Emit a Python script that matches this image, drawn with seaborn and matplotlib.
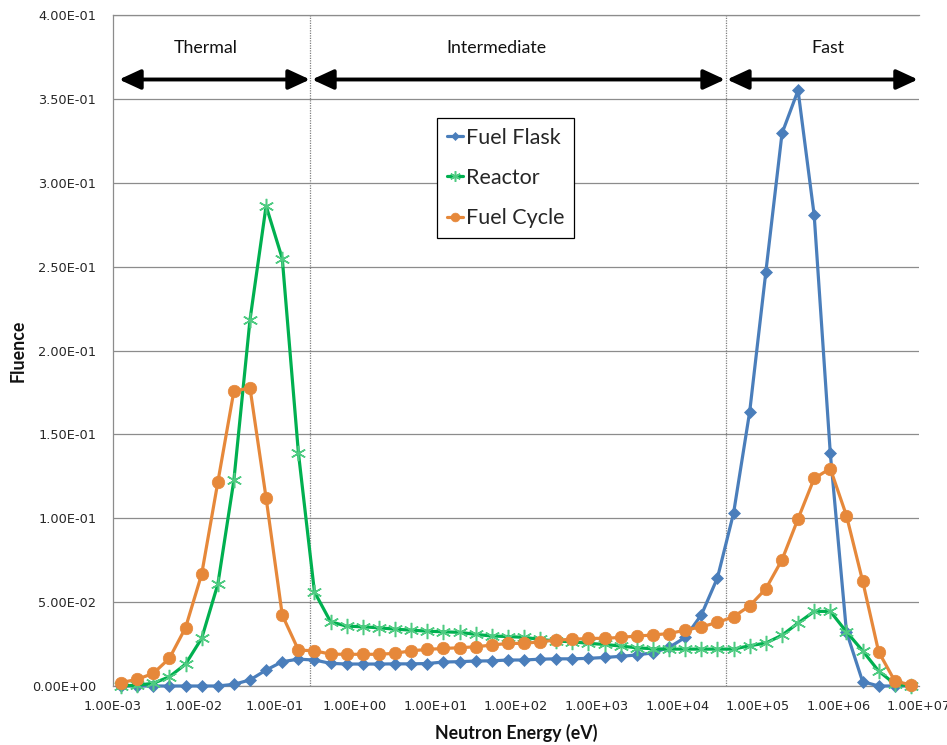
import matplotlib
matplotlib.use("Agg")
import matplotlib.pyplot as plt
from matplotlib.ticker import FixedLocator, FuncFormatter, NullLocator
import pandas as pd
import seaborn as sns

# Bin-centre energies (eV), five bins per decade
energy = [
    1.26e-3, 2.00e-3, 3.16e-3, 5.01e-3, 7.94e-3,
    1.26e-2, 2.00e-2, 3.16e-2, 5.01e-2, 7.94e-2,
    1.26e-1, 2.00e-1, 3.16e-1, 5.01e-1, 7.94e-1,
    1.26e0, 2.00e0, 3.16e0, 5.01e0, 7.94e0,
    1.26e1, 2.00e1, 3.16e1, 5.01e1, 7.94e1,
    1.26e2, 2.00e2, 3.16e2, 5.01e2, 7.94e2,
    1.26e3, 2.00e3, 3.16e3, 5.01e3, 7.94e3,
    1.26e4, 2.00e4, 3.16e4, 5.01e4, 7.94e4,
    1.26e5, 2.00e5, 3.16e5, 5.01e5, 7.94e5,
    1.26e6, 2.00e6, 3.16e6, 5.01e6, 7.94e6,
]

fuel_flask = [
    0.0, 0.0, 0.0, 0.0, 0.0, 0.0, 0.0, 0.001, 0.0036, 0.0095,
    0.0145, 0.016, 0.0155, 0.0135, 0.0131, 0.0131, 0.0131, 0.0132, 0.0132, 0.0134,
    0.0143, 0.0145, 0.0149, 0.015, 0.0155, 0.0155, 0.016, 0.0162, 0.0162, 0.0165,
    0.017, 0.0177, 0.0185, 0.0198, 0.023, 0.029, 0.0425, 0.0645, 0.1031, 0.1636,
    0.247, 0.3296, 0.3552, 0.2808, 0.1388, 0.0323, 0.0026, 0.0, 0.0, 0.0,
]

reactor = [
    0.0, 0.0005, 0.0016, 0.0055, 0.013, 0.0284, 0.0607, 0.1226, 0.2183, 0.2863,
    0.2549, 0.1389, 0.0561, 0.0383, 0.0357, 0.0353, 0.0347, 0.0339, 0.0333, 0.0327,
    0.0323, 0.032, 0.0308, 0.0298, 0.0295, 0.029, 0.0278, 0.0268, 0.0264, 0.0254,
    0.0248, 0.0238, 0.0228, 0.0222, 0.022, 0.022, 0.022, 0.022, 0.022, 0.024,
    0.0256, 0.0303, 0.0375, 0.0445, 0.0445, 0.0323, 0.021, 0.0089, 0.0012, 0.0,
]

fuel_cycle = [
    0.002, 0.004, 0.0075, 0.0165, 0.0347, 0.0667, 0.1216, 0.1758, 0.1778, 0.1121,
    0.0423, 0.0214, 0.021, 0.019, 0.0189, 0.0189, 0.0189, 0.0195, 0.021, 0.0218,
    0.0224, 0.0228, 0.0234, 0.0244, 0.0254, 0.0254, 0.0264, 0.0274, 0.0278, 0.0284,
    0.0284, 0.029, 0.0298, 0.0304, 0.0313, 0.0333, 0.0353, 0.0379, 0.0413, 0.0478,
    0.058, 0.0753, 0.0997, 0.1238, 0.1297, 0.1016, 0.0626, 0.0204, 0.003, 0.0006,
]

series_names = ["Fuel Flask", "Reactor", "Fuel Cycle"]
x_ticks = [1e-3, 1e-2, 1e-1, 1e0, 1e1, 1e2, 1e3, 1e4, 1e5, 1e6, 1e7]
y_ticks = [0.0, 0.05, 0.10, 0.15, 0.20, 0.25, 0.30, 0.35, 0.40]

# Energy-range bands shown above the curves
regions = ["Thermal", "Intermediate", "Fast"]
region_bounds = [(1.19e-3, 0.278), (0.295, 3.92e4), (4.15e4, 9.7e6)]
region_label_x = [1.4e-2, 58.0, 7.4e5]
region_dividers = [0.28, 4.0e4]

sns.set_theme(style="white")
plt.rcParams["font.family"] = ["DejaVu Sans"]

fig = plt.figure(figsize=(9.47, 7.45), dpi=100)
ax = fig.add_axes([0.1193, 0.0792, 0.9704 - 0.1193, 0.9795 - 0.0792])

df = pd.DataFrame({"energy": energy, "Fuel Flask": fuel_flask,
                   "Reactor": reactor, "Fuel Cycle": fuel_cycle})

styles = {
    "Fuel Flask": dict(color="#4A7EBB", marker="D", markersize=6,
                       markerfacecolor="#4A7EBB", markeredgecolor="#4A7EBB",
                       markeredgewidth=0.5),
    "Reactor": dict(color="#00B050", marker=(6, 2, 0), markersize=11,
                    markerfacecolor="none", markeredgecolor="#4FCB82",
                    markeredgewidth=1.1),
    "Fuel Cycle": dict(color="#E6883A", marker="o", markersize=9,
                       markerfacecolor="#E6883A", markeredgecolor="#E6883A",
                       markeredgewidth=0.5),
}

for name in series_names:
    sns.lineplot(data=df, x="energy", y=name, ax=ax, label=name,
                 linewidth=2.3, clip_on=False, zorder=3, **styles[name])

ax.set_xscale("log")
ax.set_xlim(1e-3, 1e7)
ax.set_ylim(0, 0.4)
ax.xaxis.set_major_locator(FixedLocator(x_ticks))
ax.xaxis.set_minor_locator(NullLocator())
ax.xaxis.set_major_formatter(FuncFormatter(lambda v, p: f"{v:.2E}"))
ax.yaxis.set_major_locator(FixedLocator(y_ticks))
ax.yaxis.set_major_formatter(FuncFormatter(lambda v, p: f"{v:.2E}"))

ax.tick_params(axis="x", length=0, pad=10, labelsize=9.3, labelcolor="#262626")
ax.tick_params(axis="y", length=0, pad=12, labelsize=9.3, labelcolor="#262626")

ax.grid(axis="y", color="#8C8C8C", linewidth=0.9)
ax.grid(axis="x", visible=False)
for side, sp in ax.spines.items():
    sp.set_color("#8C8C8C")
    sp.set_linewidth(0.9)
ax.spines["right"].set_visible(False)

ax.set_xlabel("Neutron Energy (eV)", family=["Lato", "DejaVu Sans"],
              fontweight="bold", fontsize=12.8, color="#111111", labelpad=8)
ax.set_ylabel("Fluence", family=["Lato", "DejaVu Sans"],
              fontweight="bold", fontsize=12.8, color="#111111", labelpad=4)

# Dotted dividers between the energy ranges
for xv in region_dividers:
    ax.axvline(xv, color="#7F7F7F", linewidth=0.9, linestyle=(0, (1, 1)), zorder=1)

# Double-headed arrows and labels for each range
for name, (x0, x1), xl in zip(regions, region_bounds, region_label_x):
    ax.annotate("", xy=(x1, 0.3617), xytext=(x0, 0.3617),
                arrowprops=dict(arrowstyle="<|-|>,head_length=0.65,head_width=0.3",
                                color="black", lw=2.8, shrinkA=0, shrinkB=0,
                                mutation_scale=20), zorder=4)
    ax.text(xl, 0.3805, name, ha="center", va="center", fontsize=12.8,
            family=["Lato", "DejaVu Sans"], color="#111111")

leg = ax.legend(loc="upper left", bbox_to_anchor=(0.402, 0.847),
                borderaxespad=0, frameon=True, fancybox=False,
                edgecolor="black", framealpha=1, prop={"family": "Lato", "size": 15.5},
                handlelength=0.75, handletextpad=0.15, labelspacing=0.95,
                borderpad=0.45, markerscale=0.7)
leg.get_frame().set_linewidth(0.9)

fig.savefig("out.png", dpi=100)
